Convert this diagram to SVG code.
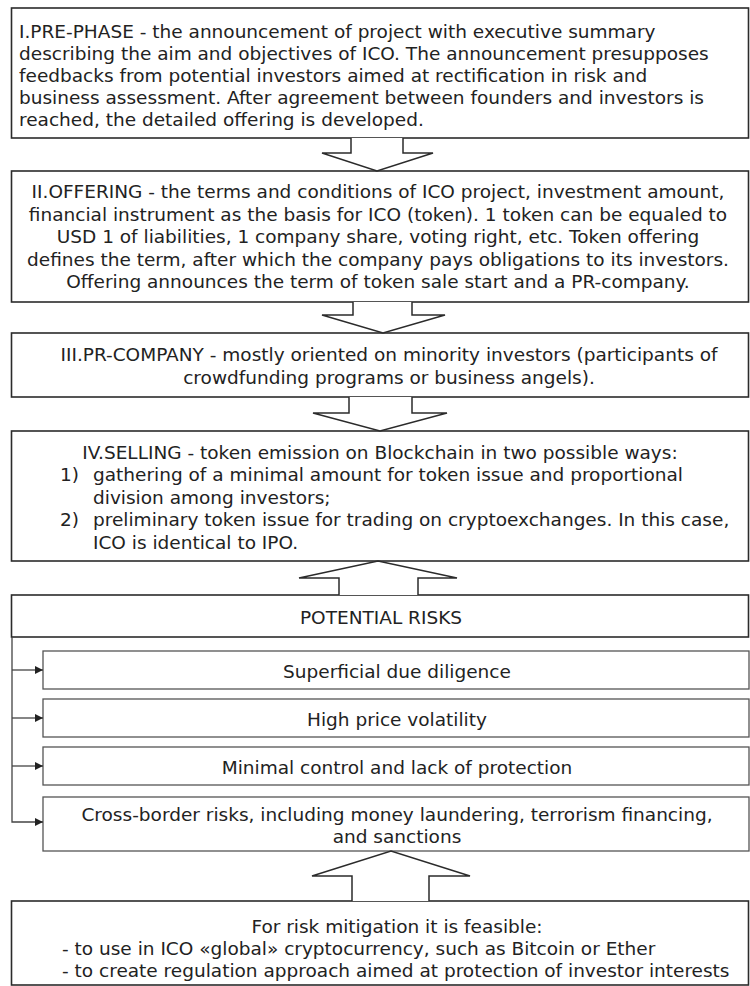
<svg xmlns="http://www.w3.org/2000/svg" width="750" height="986" viewBox="0 0 750 986">
<defs>
<style>
.box{fill:#fff;stroke:#2b2b2b;stroke-width:1.6}
.rbox{fill:#fff;stroke:#555;stroke-width:1.3}
.t{font-family:"DejaVu Sans","Verdana",sans-serif;font-size:18.5px;fill:#222}
.c{text-anchor:middle}
.blk{fill:#fff;stroke:#2b2b2b;stroke-width:1.5;stroke-linejoin:miter}
.ln{fill:none;stroke:#444;stroke-width:1.3}
</style>
<marker id="ah" viewBox="0 0 10 10" refX="10" refY="5" markerWidth="9" markerHeight="8" markerUnits="userSpaceOnUse" orient="auto">
<path d="M0,0 L10,5 L0,10 Z" fill="#222"/>
</marker>
</defs>
<rect width="750" height="986" fill="#fff"/>

<g id="n1">
<rect class="box" x="11.5" y="8" width="737" height="130"/>
<text class="t" x="19" y="38">I.PRE-PHASE - the announcement of project with executive summary</text>
<text class="t" x="19" y="60">describing the aim and objectives of ICO. The announcement presupposes</text>
<text class="t" x="19" y="82">feedbacks from potential investors aimed at rectification in risk and</text>
<text class="t" x="19" y="104">business assessment. After agreement between founders and investors is</text>
<text class="t" x="19" y="126">reached, the detailed offering is developed.</text>
</g>

<g id="n2">
<rect class="box" x="11.5" y="171" width="737" height="131"/>
<text class="t c" x="378" y="198">II.OFFERING - the terms and conditions of ICO project, investment amount,</text>
<text class="t c" x="378" y="220.5">financial instrument as the basis for ICO (token). 1 token can be equaled to</text>
<text class="t c" x="378" y="243">USD 1 of liabilities, 1 company share, voting right, etc. Token offering</text>
<text class="t c" x="378" y="265.5">defines the term, after which the company pays obligations to its investors.</text>
<text class="t c" x="378" y="288">Offering announces the term of token sale start and a PR-company.</text>
</g>

<g id="n3">
<rect class="box" x="11.5" y="333" width="737" height="64"/>
<text class="t c" x="389" y="361">III.PR-COMPANY - mostly oriented on minority investors (participants of</text>
<text class="t c" x="389" y="384">crowdfunding programs or business angels).</text>
</g>

<g id="n4">
<rect class="box" x="11.5" y="431" width="737" height="130"/>
<text class="t c" x="380" y="458.5">IV.SELLING - token emission on Blockchain in two possible ways:</text>
<text class="t" x="60" y="481">1)</text>
<text class="t" x="93" y="481">gathering of a minimal amount for token issue and proportional</text>
<text class="t" x="93" y="503.5">division among investors;</text>
<text class="t" x="60" y="526">2)</text>
<text class="t" x="93" y="526">preliminary token issue for trading on cryptoexchanges. In this case,</text>
<text class="t" x="93" y="548.5">ICO is identical to IPO.</text>
</g>

<g id="n5">
<rect class="box" x="11.5" y="595" width="737" height="42"/>
<text class="t c" x="381" y="624">POTENTIAL RISKS</text>
</g>

<g id="r1">
<rect class="rbox" x="43" y="651" width="706" height="38"/>
<text class="t c" x="397" y="678">Superficial due diligence</text>
</g>
<g id="r2">
<rect class="rbox" x="43" y="699" width="706" height="38"/>
<text class="t c" x="397" y="726">High price volatility</text>
</g>
<g id="r3">
<rect class="rbox" x="43" y="747" width="706" height="38"/>
<text class="t c" x="397" y="774">Minimal control and lack of protection</text>
</g>
<g id="r4">
<rect class="rbox" x="43" y="797" width="706" height="54"/>
<text class="t c" x="397" y="821">Cross-border risks, including money laundering, terrorism financing,</text>
<text class="t c" x="397" y="843">and sanctions</text>
</g>

<g id="n6">
<rect class="box" x="11.5" y="901" width="737" height="84"/>
<text class="t c" x="397" y="933">For risk mitigation it is feasible:</text>
<text class="t" x="62" y="955">- to use in ICO «global» cryptocurrency, such as Bitcoin or Ether</text>
<text class="t" x="62" y="976.5">- to create regulation approach aimed at protection of investor interests</text>
</g>

<g id="connectors">
<path class="blk" d="M351,138 V153 H322 L377,171 L433,153 H403 V138"/>
<path class="blk" d="M353,302 V315 H322 L383,333 L445,315 H412 V302"/>
<path class="blk" d="M349,397 V413 H313 L380,431 L447,413 H412 V397"/>
<path class="blk" d="M339,595 V578 H299 L378,561 L457,578 H418 V595"/>
<path class="blk" d="M352,901 V876 H312 L391,851 L470,876 H429 V901"/>
<path class="ln" d="M12,637 V822 H43" marker-end="url(#ah)"/>
<path class="ln" d="M12,670 H43" marker-end="url(#ah)"/>
<path class="ln" d="M12,718 H43" marker-end="url(#ah)"/>
<path class="ln" d="M12,766 H43" marker-end="url(#ah)"/>
</g>
</svg>
